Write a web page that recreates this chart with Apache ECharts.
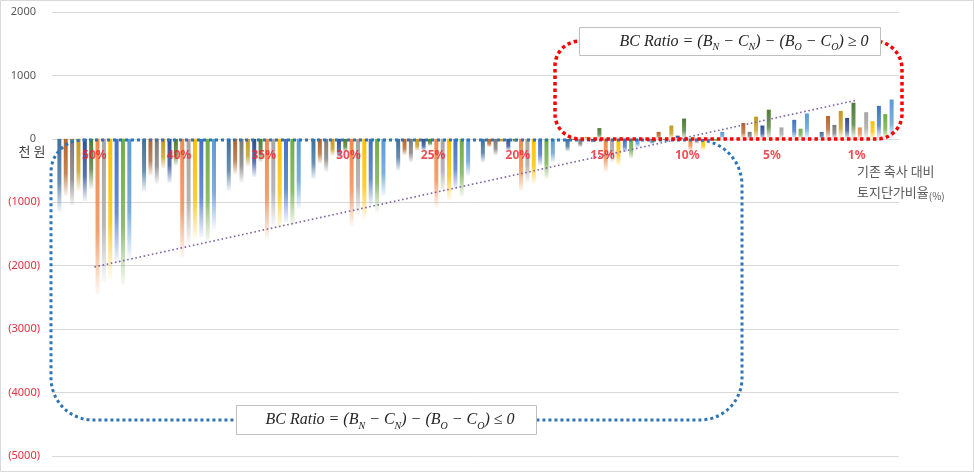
<!DOCTYPE html>
<html>
<head>
<meta charset="utf-8">
<script src="https://cdn.jsdelivr.net/npm/echarts@6/dist/echarts.min.js"></script>
<style>html,body{margin:0;padding:0;background:#fff;}#c{width:974px;height:472px;}</style>
</head>
<body>
<div id="c"></div>
<script>
// categories: land price ratio vs existing barn
const categories = ['50%','40%','35%','30%','25%','20%','15%','10%','5%','1%'];
const yTicks = [-5000,-4000,-3000,-2000,-1000,0,1000,2000];
// 12 series (unit: 천 원)
const s1  = [-1150,-830,-820,-630,-500,-370,-200,-80,0,110];
const s2  = [-900,-580,-560,-390,-260,-130,-20,110,250,360];
const s3  = [-1050,-710,-690,-520,-370,-260,-130,-30,110,220];
const s4  = [-830,-470,-440,-270,-190,-50,30,210,350,440];
const s5  = [-980,-700,-600,-310,-190,-190,-60,50,210,330];
const s6  = [-790,-420,-370,-210,-110,-50,170,320,460,570];
const s7  = [-2450,-1870,-1580,-1370,-1080,-820,-520,-190,0,180];
const s8  = [-2250,-1680,-1370,-1210,-840,-690,-370,-80,180,420];
const s9  = [-2200,-1580,-1420,-1260,-970,-710,-420,-180,0,280];
const s10 = [-1950,-1550,-1320,-1050,-790,-420,-210,-30,300,520];
const s11 = [-2300,-1620,-1370,-1150,-910,-630,-310,-40,160,390];
const s12 = [-1900,-1420,-1100,-900,-580,-370,-130,110,400,620];
const seriesValues = [s1,s2,s3,s4,s5,s6,s7,s8,s9,s10,s11,s12];
const seriesColors = ['#41719C','#B5652B','#7A7A7A','#C49A1E','#2E4F96','#4E7D35',
                      '#F08A4B','#A5A5A5','#FFC000','#4472C4','#70AD47','#5B9BD5'];
// linear trend line end points
const trendStart = ['50%', -2020];
const trendEnd = ['1%', 610];

function rgba(hex, a) {
  const n = parseInt(hex.slice(1), 16);
  return 'rgba(' + (n >> 16 & 255) + ',' + (n >> 8 & 255) + ',' + (n & 255) + ',' + a + ')';
}

const chart = echarts.init(document.getElementById('c'), null, {renderer: 'canvas'});

const barSeries = seriesValues.map((vals, i) => ({
  type: 'bar',
  data: vals,
  barWidth: 4,
  barGap: '59%',
  itemStyle: {
    color: new echarts.graphic.LinearGradient(0, 0, 0, 1, [
      {offset: 0, color: seriesColors[i]},
      {offset: 0.6, color: rgba(seriesColors[i], 0.8)},
      {offset: 1, color: rgba(seriesColors[i], 0.06)}
    ])
  },
  z: 2
}));

// category labels drawn at the zero line
const categoryLabelSeries = {
  type: 'scatter',
  data: categories.map(c => [c, 0]),
  symbolSize: 1,
  itemStyle: {color: 'rgba(0,0,0,0)'},
  silent: true,
  z: 6,
  label: {
    show: true,
    position: 'bottom',
    distance: 10,
    formatter: p => p.value[0],
    color: '#F0202A',
    fontSize: 12,
    fontWeight: 'bold',
    fontFamily: '"Noto Sans", sans-serif'
  }
};

function formulaText(op) {
  return '{i|BC Ratio = (B}{s|N}{i| − C}{s|N}{i|) − (B}{s|O}{i| − C}{s|O}{i|) ' + op + ' 0}';
}
const formulaRich = {
  i: {fontFamily: '"Liberation Serif", serif', fontStyle: 'italic', fontSize: 16, lineHeight: 22, verticalAlign: 'middle', fill: '#262626', color: '#262626'},
  s: {fontFamily: '"Liberation Serif", serif', fontStyle: 'italic', fontSize: 10, lineHeight: 22, verticalAlign: 'bottom', fill: '#262626', color: '#262626'}
};

const option = {
  animation: false,
  backgroundColor: '#ffffff',
  grid: {left: 52, right: 75, top: 12, bottom: 16, containLabel: false},
  xAxis: {
    type: 'category',
    data: categories,
    boundaryGap: true,
    axisLine: {show: false},
    axisTick: {show: false},
    axisLabel: {show: false},
    splitLine: {show: false}
  },
  yAxis: {
    type: 'value',
    min: yTicks[0],
    max: yTicks[yTicks.length - 1],
    interval: 1000,
    axisLine: {show: false},
    axisTick: {show: false},
    splitLine: {lineStyle: {color: '#D9D9D9', width: 1}},
    axisLabel: {
      margin: 12,
      fontFamily: '"Noto Sans", sans-serif',
      formatter: v => v < 0 ? '{n|(' + (-v) + ')}' : '{p|' + v + '}',
      rich: {
        n: {color: '#E0303A', fontSize: 11, fontFamily: '"Noto Sans", sans-serif'},
        p: {color: '#595959', fontSize: 11, padding: [0, 4, 0, 0], fontFamily: '"Noto Sans", sans-serif'}
      }
    }
  },
  series: barSeries.concat([{
    type: 'line',
    data: [trendStart, trendEnd],
    symbol: 'none',
    lineStyle: {color: '#8064A2', width: 1.6, type: [1.6, 2.6]},
    z: 5
  }, categoryLabelSeries]),
  graphic: {
    elements: [
      {type: 'rect', z: 90, silent: true,
        shape: {x: 0.5, y: 0.5, width: 973, height: 471},
        style: {fill: 'none', stroke: '#D9D9D9', lineWidth: 1}},
      {type: 'rect', z: 100, silent: true,
        shape: {x: 51, y: 140, width: 691, height: 280, r: [32, 45, 42, 42]},
        style: {fill: 'none', stroke: '#2E75B6', lineWidth: 3, lineDash: [3, 3]}},
      {type: 'rect', z: 100, silent: true,
        shape: {x: 555, y: 41, width: 347, height: 98, r: [25, 28, 25, 25]},
        style: {fill: 'none', stroke: '#FF0000', lineWidth: 3.5, lineDash: [3.5, 3]}},
      {type: 'rect', z: 110, silent: true,
        shape: {x: 579.5, y: 27.5, width: 301, height: 28},
        style: {fill: '#ffffff', stroke: '#BFBFBF', lineWidth: 1}},
      {type: 'text', z: 111, silent: true,
        style: {x: 744, y: 41.5, text: formulaText('≥'), rich: formulaRich,
          align: 'center', verticalAlign: 'middle', fill: '#262626'}},
      {type: 'rect', z: 110, silent: true,
        shape: {x: 236.5, y: 405.5, width: 300, height: 29},
        style: {fill: '#ffffff', stroke: '#BFBFBF', lineWidth: 1}},
      {type: 'text', z: 111, silent: true,
        style: {x: 390, y: 420, text: formulaText('≤'), rich: formulaRich,
          align: 'center', verticalAlign: 'middle', fill: '#262626'}},
      {type: 'text', z: 111, silent: true,
        style: {x: 32, y: 151, text: '천 원', font: '13px "Noto Sans CJK KR", sans-serif',
          fill: '#404040', align: 'center', verticalAlign: 'middle'}},
      {type: 'text', z: 111, silent: true,
        style: {x: 857, y: 171, text: '기존 축사 대비', font: '13px "Noto Sans CJK KR", sans-serif',
          fill: '#595959', align: 'left', verticalAlign: 'middle'}},
      {type: 'text', z: 111, silent: true,
        style: {x: 857, y: 192, text: '{a|토지단가비율}{b|(%)}',
          rich: {
            a: {fontFamily: '"Noto Sans CJK KR", sans-serif', fontSize: 13, fill: '#595959', color: '#595959', lineHeight: 18, verticalAlign: 'middle'},
            b: {fontFamily: '"Noto Sans CJK KR", sans-serif', fontSize: 10, fill: '#595959', color: '#595959', lineHeight: 18, verticalAlign: 'bottom'}
          },
          align: 'left', verticalAlign: 'middle'}}
    ]
  }
};
chart.setOption(option);
</script>
</body>
</html>
